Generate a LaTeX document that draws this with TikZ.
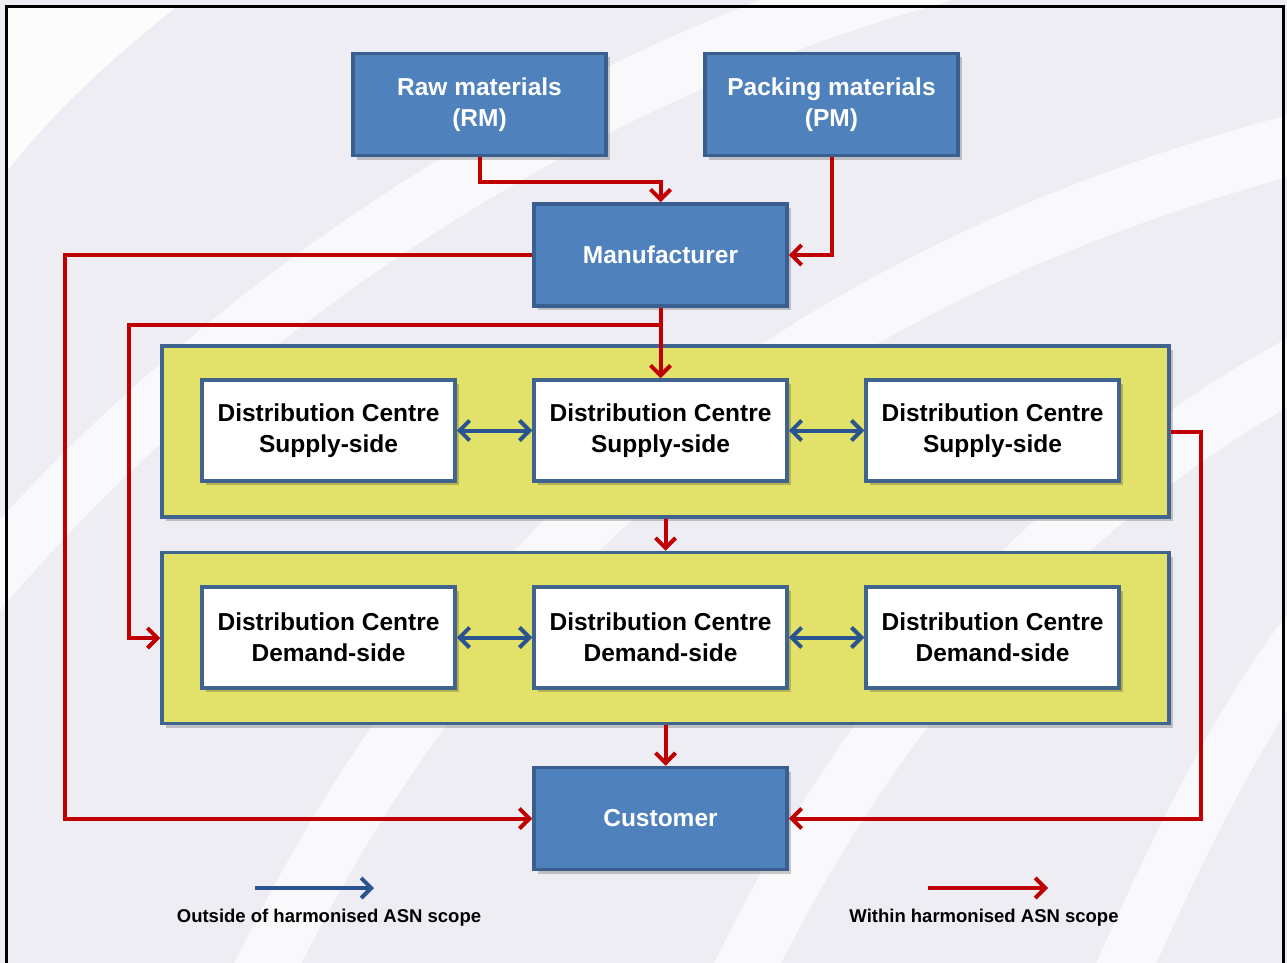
\documentclass[tikz,border=0pt]{standalone}
\usepackage{fontspec}
\setmainfont{Liberation Sans}
\usetikzlibrary{arrows.meta,shadows}
\definecolor{bgc}{HTML}{EDEDF3}
\definecolor{bluefill}{HTML}{4F81BD}
\definecolor{bluedark}{HTML}{3A5F8E}
\definecolor{yellowfill}{HTML}{E2E26A}
\definecolor{contborder}{HTML}{41648F}
\definecolor{redc}{HTML}{C00000}
\definecolor{bluearr}{HTML}{29548F}
\begin{document}
\begin{tikzpicture}[x=1pt,y=-1pt,
  shade/.style={drop shadow={shadow xshift=4pt,shadow yshift=-4pt,opacity=0.2,fill=black}},
  bluebox/.style={rectangle,draw=bluedark,line width=3.5pt,fill=bluefill,text=white,
    font=\fontsize{24.5}{31}\selectfont\bfseries,align=center,inner sep=0pt,
    minimum width=253pt,minimum height=102pt,shade},
  dcbox/.style={rectangle,draw=contborder,line width=3.5pt,fill=white,text=black,
    font=\fontsize{24.5}{31}\selectfont\bfseries,align=center,inner sep=0pt,
    minimum width=253pt,minimum height=101pt,shade},
  container/.style={rectangle,draw=contborder,line width=3.5pt,fill=yellowfill,
    inner sep=0pt,minimum width=1007pt,minimum height=171pt,shade},
  tipr/.tip={Straight Barb[length=10pt,width=20pt]},
  redarrow/.style={draw=redc,line width=4pt,-tipr},
  bluedbl/.style={draw=bluearr,line width=4pt,tipr-tipr},
  bluearrow/.style={draw=bluearr,line width=4pt,-tipr},
  legend/.style={font=\fontsize{18.5}{22}\selectfont\bfseries,text=black,inner sep=0pt},
  swoosh/.style={draw=white,opacity=0.7,line cap=butt}
]
\useasboundingbox (0,0) rectangle (1287,963);
\fill[bgc] (0,0) rectangle (1287,963);
% background swooshes
\fill[white,opacity=0.85] (8,8) -- (175,8) .. controls (110,60) and (55,110) .. (8,170) -- cycle;
\draw[swoosh,line width=60pt] (-30,600) .. controls (150,380) and (500,90) .. (950,-30);
\draw[swoosh,line width=60pt] (250,1000) .. controls (420,640) and (700,300) .. (1310,140);
\draw[swoosh,line width=60pt] (730,1000) .. controls (860,720) and (1050,500) .. (1310,360);
\draw[swoosh,line width=55pt] (1110,1000) .. controls (1180,840) and (1240,720) .. (1310,630);
% frame
\draw[black,line width=3pt] (6,963) -- (6,7) -- (1283,7) -- (1283,963);
% containers
\node[container] (sup) at (665.5,431.5) {};
\node[container] (dem) at (665.5,638) {};
% boxes
\node[bluebox] (rm) at (479.5,104.5) {Raw materials\\(RM)};
\node[bluebox] (pm) at (831.5,104.5) {Packing materials\\(PM)};
\node[bluebox] (man) at (660.5,255) {Manufacturer};
\node[dcbox] (s1) at (328.5,430.5) {Distribution Centre\\Supply-side};
\node[dcbox] (s2) at (660.5,430.5) {Distribution Centre\\Supply-side};
\node[dcbox] (s3) at (992.5,430.5) {Distribution Centre\\Supply-side};
\node[dcbox] (d1) at (328.5,637.5) {Distribution Centre\\Demand-side};
\node[dcbox] (d2) at (660.5,637.5) {Distribution Centre\\Demand-side};
\node[dcbox] (d3) at (992.5,637.5) {Distribution Centre\\Demand-side};
\node[bluebox] (cust) at (660.5,818.5) {Customer};
% helper coordinates
\coordinate (lx) at (65,0);
\coordinate (bx) at (129,0);
\coordinate (by) at (0,325);
\coordinate (rx) at (1201,0);
% red connectors
\draw[redarrow] (rm.south) -- ++(0,25) -| (man.north);
\draw[redarrow] (pm.south) |- (man.east);
\draw[redarrow] (man.west) -- (man.west -| lx) -- (cust.west -| lx) -- (cust.west);
\draw[redarrow] (man.south) -- (s2.north);
\draw[redarrow] (man.south |- by) -- (bx |- by) -- (bx |- dem.west) -- (dem.west);
\draw[redarrow] (sup.south) -- (dem.north);
\draw[redarrow] (dem.south) -- (dem.south |- cust.north);
\draw[redarrow] (sup.east) -- (sup.east -| rx) -- (cust.east -| rx) -- (cust.east);
% blue connectors
\draw[bluedbl] (s1.east) -- (s2.west);
\draw[bluedbl] (s2.east) -- (s3.west);
\draw[bluedbl] (d1.east) -- (d2.west);
\draw[bluedbl] (d2.east) -- (d3.west);
% legend
\coordinate (lb1) at (255,888);
\coordinate (lb2) at (374,888);
\coordinate (lr1) at (928,888);
\coordinate (lr2) at (1048,888);
\draw[bluearrow] (lb1) -- (lb2);
\draw[redarrow] (lr1) -- (lr2);
\node[legend] (lt1) at (329,918) {Outside of harmonised ASN scope};
\node[legend] (lt2) at (984,918) {Within harmonised ASN scope};
\end{tikzpicture}
\end{document}
